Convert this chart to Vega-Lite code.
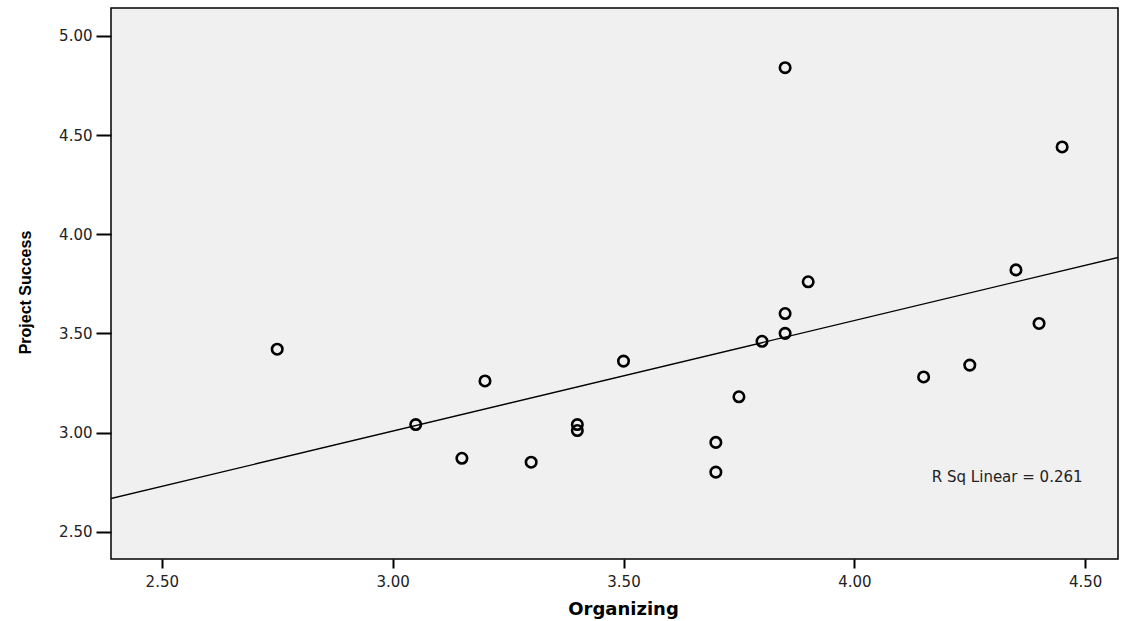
{
  "$schema": "https://vega.github.io/schema/vega-lite/v6.json",
  "width": 1007,
  "height": 551,
  "autosize": "none",
  "padding": {"left": 111, "top": 8, "right": 8, "bottom": 62},
  "background": "white",
  "config": {
    "view": {"fill": "#f0f0f0", "stroke": "black", "strokeWidth": 1.5},
    "axis": {
      "grid": false,
      "domain": false,
      "tickColor": "black",
      "tickWidth": 2,
      "labelColor": "#222222",
      "labelFont": "DejaVu Sans",
      "labelFontSize": 15,
      "titleColor": "black"
    }
  },
  "datasets": {
    "pts": [
      {"Organizing": 2.75, "ProjectSuccess": 3.42},
      {"Organizing": 3.05, "ProjectSuccess": 3.04},
      {"Organizing": 3.15, "ProjectSuccess": 2.87},
      {"Organizing": 3.20, "ProjectSuccess": 3.26},
      {"Organizing": 3.30, "ProjectSuccess": 2.85},
      {"Organizing": 3.40, "ProjectSuccess": 3.04},
      {"Organizing": 3.40, "ProjectSuccess": 3.01},
      {"Organizing": 3.50, "ProjectSuccess": 3.36},
      {"Organizing": 3.70, "ProjectSuccess": 2.95},
      {"Organizing": 3.70, "ProjectSuccess": 2.80},
      {"Organizing": 3.75, "ProjectSuccess": 3.18},
      {"Organizing": 3.80, "ProjectSuccess": 3.46},
      {"Organizing": 3.85, "ProjectSuccess": 3.60},
      {"Organizing": 3.85, "ProjectSuccess": 3.50},
      {"Organizing": 3.85, "ProjectSuccess": 4.84},
      {"Organizing": 3.90, "ProjectSuccess": 3.76},
      {"Organizing": 4.15, "ProjectSuccess": 3.28},
      {"Organizing": 4.25, "ProjectSuccess": 3.34},
      {"Organizing": 4.35, "ProjectSuccess": 3.82},
      {"Organizing": 4.40, "ProjectSuccess": 3.55},
      {"Organizing": 4.45, "ProjectSuccess": 4.44}
    ],
    "note": [
      {"Organizing": 4.331, "ProjectSuccess": 2.751, "label": "R Sq Linear = 0.261"}
    ]
  },
  "layer": [
    {
      "data": {"name": "pts"},
      "transform": [
        {"regression": "ProjectSuccess", "on": "Organizing", "method": "linear", "extent": [2.38, 4.58]}
      ],
      "mark": {"type": "line", "color": "black", "strokeWidth": 1.3, "clip": true},
      "encoding": {
        "x": {
          "field": "Organizing",
          "type": "quantitative",
          "scale": {"domain": [2.39, 4.571], "nice": false, "zero": false},
          "axis": {
            "values": [2.5, 3.0, 3.5, 4.0, 4.5],
            "format": ".2f",
            "tickSize": 9,
            "labelPadding": 6,
            "title": "Organizing",
            "titleFont": "DejaVu Sans",
            "titleFontSize": 18,
            "titleFontWeight": "bold",
            "titleBaseline": "alphabetic",
            "titleX": 512,
            "titleY": 55
          }
        },
        "y": {
          "field": "ProjectSuccess",
          "type": "quantitative",
          "scale": {"domain": [2.362, 5.141], "nice": false, "zero": false},
          "axis": {
            "values": [2.5, 3.0, 3.5, 4.0, 4.5, 5.0],
            "format": ".2f",
            "tickSize": 15,
            "labelPadding": 4,
            "title": "Project Success",
            "titleFont": "Liberation Sans",
            "titleFontSize": 16,
            "titleFontWeight": "bold",
            "titleX": -78,
            "titleY": 284
          }
        }
      }
    },
    {
      "data": {"name": "pts"},
      "mark": {"type": "point", "shape": "circle", "filled": false, "stroke": "black", "strokeWidth": 2.6, "size": 110, "opacity": 1},
      "encoding": {
        "x": {"field": "Organizing", "type": "quantitative"},
        "y": {"field": "ProjectSuccess", "type": "quantitative"}
      }
    },
    {
      "data": {"name": "note"},
      "mark": {"type": "text", "font": "DejaVu Sans", "fontSize": 15, "color": "#222222", "align": "center", "baseline": "alphabetic"},
      "encoding": {
        "x": {"field": "Organizing", "type": "quantitative"},
        "y": {"field": "ProjectSuccess", "type": "quantitative"},
        "text": {"field": "label"}
      }
    }
  ]
}
